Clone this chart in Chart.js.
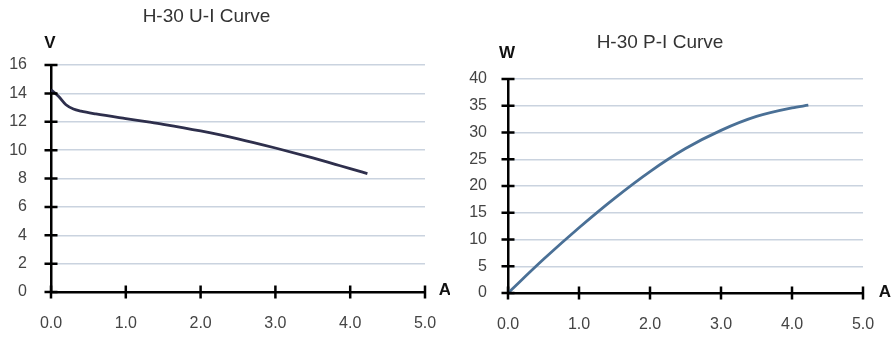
<!DOCTYPE html>
<html>
<head>
<meta charset="utf-8">
<script src="https://cdn.jsdelivr.net/npm/chart.js@4.4.1/dist/chart.umd.min.js"></script>
<style>
  html, body { margin: 0; padding: 0; background: #ffffff; }
  body { width: 893px; height: 338px; position: relative; overflow: hidden; }
  .box { position: absolute; top: 0; height: 338px; }
  #boxUI { left: 0; width: 450px; }
  #boxPI { left: 450px; width: 443px; }
</style>
</head>
<body>
<div class="box" id="boxUI"><canvas id="chartUI"></canvas></div>
<div class="box" id="boxPI"><canvas id="chartPI"></canvas></div>
<script>
// ---- Data ----
const uiCurrent = [0, 0.1, 0.2, 0.3, 0.4, 0.6, 1.0, 1.32, 1.5, 2.0, 2.5, 3.0, 3.5, 3.8, 4.0, 4.23];
const uiVoltage = [14.25, 13.8, 13.2, 12.9, 12.75, 12.55, 12.22, 11.97, 11.82, 11.35, 10.8, 10.15, 9.45, 9.0, 8.7, 8.35];

const piCurrent = [0, 0.5, 1.0, 1.5, 2.0, 2.5, 3.0, 3.5, 4.0, 4.23];
const piPower   = [0, 6.3, 12.2, 17.7, 22.7, 27.0, 30.4, 33.0, 34.6, 35.1];

const xTickValues  = [0, 1, 2, 3, 4, 5];
const uiYTicks     = [0, 2, 4, 6, 8, 10, 12, 14, 16];
const piYTicks     = [0, 5, 10, 15, 20, 25, 30, 35, 40];

const uiTitle = 'H-30 U-I Curve';
const piTitle = 'H-30 P-I Curve';
const uiYUnit = 'V';
const piYUnit = 'W';
const xUnit = 'A';

const FONT = "'Liberation Sans', Arial, sans-serif";

// Crossing tick marks + titles + unit labels
const decor = {
  id: 'decor',
  afterDraw(chart, args, o) {
    const { ctx, chartArea: ca, scales: { x, y } } = chart;
    ctx.save();
    ctx.strokeStyle = '#000';
    ctx.lineWidth = 2.5;
    ctx.beginPath();
    y.ticks.forEach((t, i) => {
      const py = y.getPixelForTick(i);
      ctx.moveTo(ca.left - 6.5, py); ctx.lineTo(ca.left + 6.5, py);
    });
    x.ticks.forEach((t, i) => {
      const px = x.getPixelForTick(i);
      ctx.moveTo(px, ca.bottom - 6.5); ctx.lineTo(px, ca.bottom + 6.5);
    });
    ctx.stroke();

    ctx.textAlign = 'center';
    ctx.textBaseline = 'middle';
    ctx.fillStyle = '#333';
    ctx.font = '19px ' + FONT;
    ctx.fillText(o.title, o.titleX, o.titleY);

    ctx.fillStyle = '#111';
    ctx.font = 'bold 17px ' + FONT;
    ctx.fillText(o.yUnit, ca.left + o.yUnitDx, ca.top + o.yUnitDy);
    ctx.fillText(o.xUnit, ca.right + o.xUnitDx, ca.bottom + o.xUnitDy);
    ctx.restore();
  }
};

function makeChart(id, xs, ys, color, yMax, yTicks, cfg) {
  const points = xs.map((v, i) => ({ x: v, y: ys[i] }));
  return new Chart(document.getElementById(id), {
    type: 'line',
    data: {
      datasets: [{
        data: points,
        borderColor: color,
        borderWidth: 2.8,
        pointRadius: 0,
        fill: false,
        cubicInterpolationMode: 'monotone'
      }]
    },
    options: {
      responsive: true,
      maintainAspectRatio: false,
      animation: false,
      layout: { padding: { top: cfg.top, right: cfg.right, left: 0, bottom: 0 } },
      plugins: {
        legend: { display: false },
        tooltip: { enabled: false },
        decor: cfg.decor
      },
      scales: {
        x: {
          type: 'linear',
          min: 0, max: 5,
          afterBuildTicks: s => { s.ticks = xTickValues.map(v => ({ value: v })); },
          afterFit: s => { s.height = cfg.xHeight; s.paddingLeft = 0; s.paddingRight = 0; },
          ticks: {
            padding: 22,
            color: '#444',
            font: { family: FONT, size: 16 },
            callback: v => Number(v).toFixed(1)
          },
          grid: { display: false, drawTicks: false },
          border: { display: true, color: '#000', width: 2.5 }
        },
        y: {
          type: 'linear',
          min: 0, max: yMax,
          afterBuildTicks: s => { s.ticks = yTicks.map(v => ({ value: v })); },
          afterFit: s => { s.width = cfg.yWidth; s.paddingTop = 0; s.paddingBottom = 0; },
          ticks: {
            padding: cfg.yPad,
            color: '#444',
            font: { family: FONT, size: 16 }
          },
          grid: { color: '#cad3df', lineWidth: 1.5, drawTicks: false },
          border: { display: true, color: '#000', width: 2.5 }
        }
      }
    },
    plugins: [decor]
  });
}

makeChart('chartUI', uiCurrent, uiVoltage, '#2e2f4c', 16, uiYTicks, {
  top: 65, right: 25, xHeight: 46, yWidth: 51, yPad: 24,
  decor: { title: uiTitle, titleX: 206.5, titleY: 17, yUnit: uiYUnit, yUnitDx: -1, yUnitDy: -22,
           xUnit: xUnit, xUnitDx: 20, xUnitDy: -2 }
});

makeChart('chartPI', piCurrent, piPower, '#4a7096', 40, piYTicks, {
  top: 79, right: 30, xHeight: 45, yWidth: 58, yPad: 21,
  decor: { title: piTitle, titleX: 210, titleY: 43, yUnit: piYUnit, yUnitDx: -1, yUnitDy: -26,
           xUnit: xUnit, xUnitDx: 22, xUnitDy: -1 }
});
</script>
</body>
</html>
